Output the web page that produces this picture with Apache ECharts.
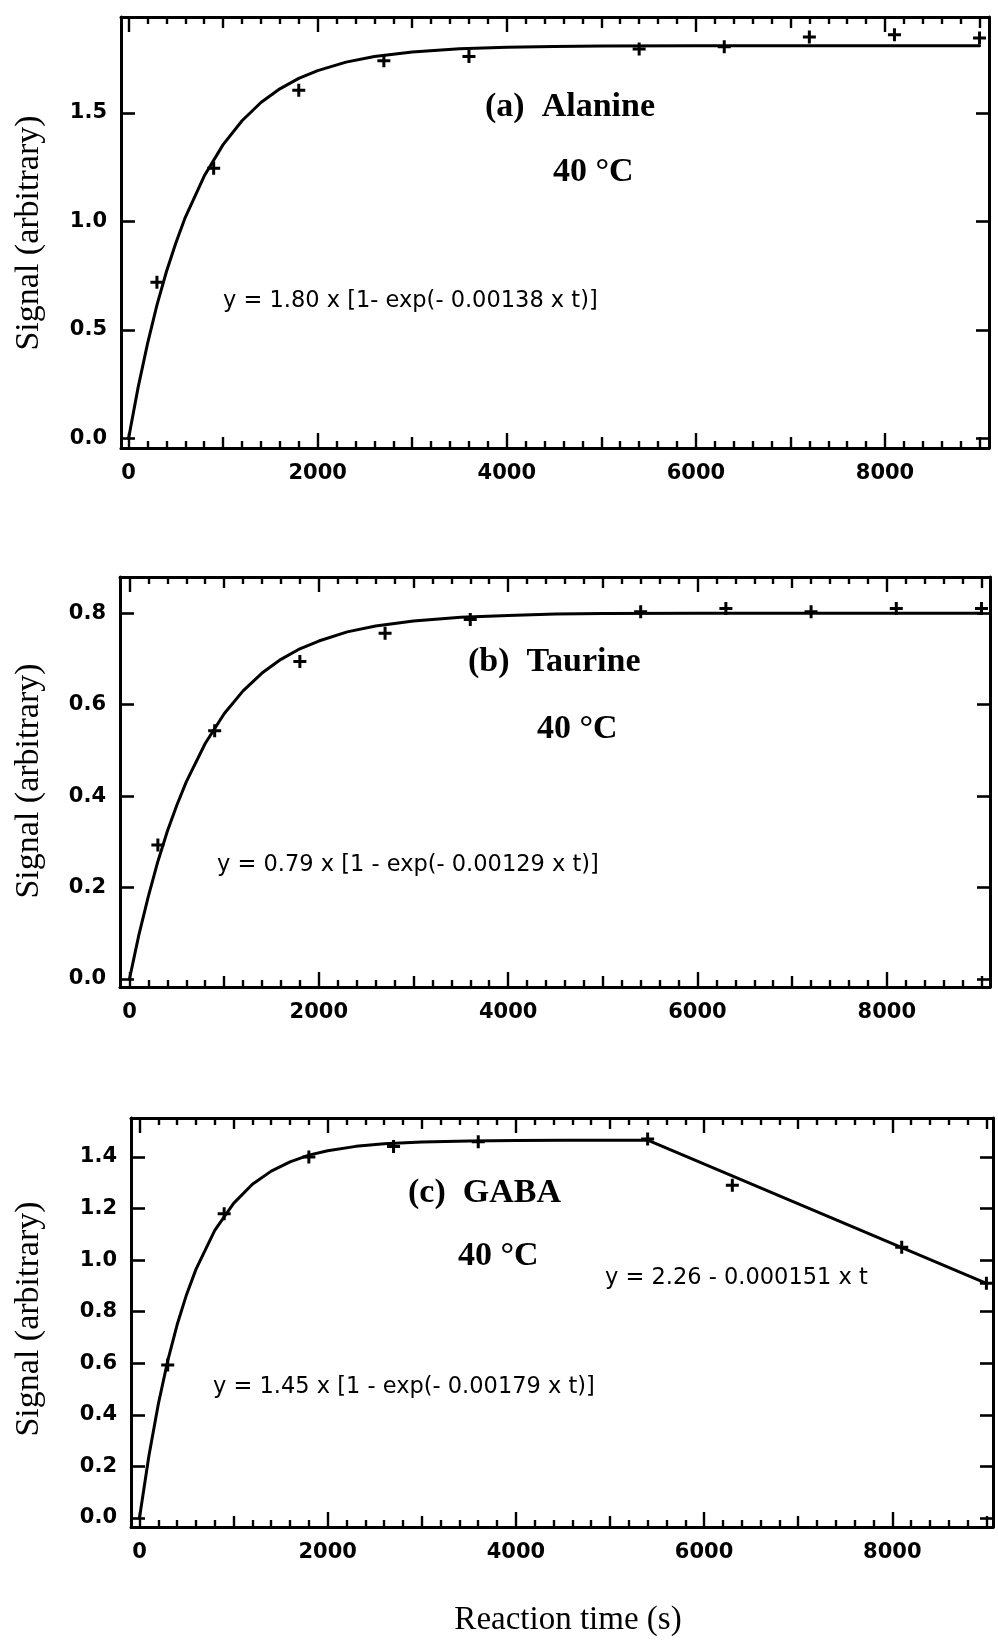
<!DOCTYPE html>
<html>
<head>
<meta charset="utf-8">
<script src="https://cdn.jsdelivr.net/npm/echarts@6/dist/echarts.min.js"></script>
<style>
html,body{margin:0;padding:0;background:#ffffff;}
#chart{width:998px;height:1643px;}
</style>
</head>
<body>
<div id="chart"></div>
<script>
// ---- tick values (reaction time, s) ----
const xLabelTicks = [0, 2000, 4000, 6000, 8000];
const xMidTicks = [1000, 3000, 5000, 7000, 9000];
const xMinorTicks = [200, 400, 600, 800, 1200, 1400, 1600, 1800, 2200, 2400, 2600, 2800,
  3200, 3400, 3600, 3800, 4200, 4400, 4600, 4800, 5200, 5400, 5600, 5800,
  6200, 6400, 6600, 6800, 7200, 7400, 7600, 7800, 8200, 8400, 8600, 8800];

// ---- signal tick values ----
const yTicksAlanine = [0, 0.5, 1.0, 1.5];
const yTicksTaurine = [0, 0.2, 0.4, 0.6, 0.8];
const yTicksGaba = [0, 0.2, 0.4, 0.6, 0.8, 1.0, 1.2, 1.4];

// ---- measured points ----
const alanineTime = [300, 900, 1800, 2700, 3600, 5400, 6300, 7200, 8100, 9000];
const alanineSignal = [0.72, 1.245, 1.605, 1.74, 1.76, 1.795, 1.805, 1.85, 1.86, 1.845];

const taurineTime = [300, 900, 1800, 2700, 3600, 5400, 6300, 7200, 8100, 9000];
const taurineSignal = [0.293, 0.543, 0.694, 0.756, 0.786, 0.803, 0.81, 0.803, 0.81, 0.81];

const gabaTime = [300, 900, 1800, 2700, 3600, 5400, 6300, 8100, 9000];
const gabaSignal = [0.593, 1.18, 1.40, 1.44, 1.459, 1.47, 1.29, 1.05, 0.91];

// ---- fitted curves ----
const fitTime = [0, 100, 200, 300, 400, 500, 600, 800, 1000, 1200, 1400, 1600, 1800, 2000,
  2300, 2600, 3000, 3500, 4000, 4500, 5000, 6000, 7000, 8000, 9000];
const alanineFit = [0, 0.233, 0.436, 0.614, 0.768, 0.901, 1.019, 1.209, 1.354, 1.464, 1.548,
  1.611, 1.659, 1.695, 1.734, 1.760, 1.781, 1.796, 1.803, 1.806, 1.808, 1.810, 1.810, 1.810, 1.810];
const taurineFit = [0, 0.097, 0.181, 0.257, 0.323, 0.380, 0.431, 0.515, 0.580, 0.630, 0.669,
  0.699, 0.722, 0.739, 0.759, 0.772, 0.783, 0.791, 0.795, 0.798, 0.799, 0.800, 0.800, 0.800, 0.800];

const gabaFitTime = [0, 100, 200, 300, 400, 500, 600, 800, 1000, 1200, 1400, 1600, 1800, 2000,
  2300, 2600, 3000, 3500, 4000, 4500, 5000, 5400];
const gabaFit = [0, 0.240, 0.441, 0.609, 0.749, 0.866, 0.964, 1.115, 1.220, 1.294, 1.345,
  1.381, 1.407, 1.424, 1.441, 1.451, 1.458, 1.462, 1.464, 1.465, 1.465, 1.465];
const gabaDecayTime = [5400, 9000];
const gabaDecay = [1.465, 0.91];

// ---- text ----
const yTitle = 'Signal (arbitrary)';
const xTitle = 'Reaction time (s)';
const panelTitles = ['(a)  Alanine', '(b)  Taurine', '(c)  GABA'];
const tempLabel = '40 \u00B0C';
const equations = [
  'y = 1.80 x [1- exp(- 0.00138 x t)]',
  'y = 0.79 x [1 - exp(- 0.00129 x t)]',
  'y = 1.45 x [1 - exp(- 0.00179 x t)]'
];
const linearEquation = 'y = 2.26 - 0.000151 x t';

const SANS = "'DejaVu Sans', Verdana, sans-serif";
const SERIF = "'Liberation Serif', 'Times New Roman', Times, serif";
const PLUS = 'path://M5,0H8V5H13V8H8V13H5V8H0V5H5Z';

const zip = (a, b) => a.map((v, i) => [v, b[i]]);

const layouts = [
  { left: 121, right: 9, top: 17, height: 431, xMin: -80, xMax: 9100, yMin: -0.044, yMax: 1.942, yTicks: yTicksAlanine },
  { left: 120, right: 8, top: 577, height: 410, xMin: -100, xMax: 9090, yMin: -0.0175, yMax: 0.879, yTicks: yTicksTaurine },
  { left: 131, right: 5, top: 1118, height: 409, xMin: -90, xMax: 9070, yMin: -0.035, yMax: 1.551, yTicks: yTicksGaba }
];

const grids = [], xAxes = [], yAxes = [], series = [];
const labelStyle = { color: '#000', fontSize: 21, fontWeight: 'bold', fontFamily: SANS };

function xAxisDef(p, L, position, ticks, len, withLine, withLabels) {
  return {
    gridIndex: p, type: 'value', position: position, min: L.xMin, max: L.xMax,
    axisLine: { show: withLine, onZero: false, lineStyle: { color: '#000', width: 3 } },
    axisTick: { show: true, inside: true, length: len, customValues: ticks, lineStyle: { color: '#000', width: 2.4 } },
    axisLabel: withLabels ? Object.assign({ show: true, customValues: xLabelTicks, margin: 15,
      formatter: v => String(Math.round(v)) }, labelStyle) : { show: false },
    splitLine: { show: false }, minorTick: { show: false }, minorSplitLine: { show: false }
  };
}

layouts.forEach((L, p) => {
  grids.push({ left: L.left, right: L.right, top: L.top, height: L.height, outerBoundsMode: 'none', containLabel: false, show: false });
  xAxes.push(xAxisDef(p, L, 'bottom', xLabelTicks, 15, true, true));
  xAxes.push(xAxisDef(p, L, 'bottom', xMidTicks, 11, false, false));
  xAxes.push(xAxisDef(p, L, 'bottom', xMinorTicks, 7, false, false));
  xAxes.push(xAxisDef(p, L, 'top', xLabelTicks, 15, true, false));
  xAxes.push(xAxisDef(p, L, 'top', xMidTicks, 11, false, false));
  xAxes.push(xAxisDef(p, L, 'top', xMinorTicks, 7, false, false));
  yAxes.push({
    gridIndex: p, type: 'value', position: 'left', min: L.yMin, max: L.yMax,
    axisLine: { show: true, onZero: false, lineStyle: { color: '#000', width: 3 } },
    axisTick: { show: true, inside: true, length: 14, customValues: L.yTicks, lineStyle: { color: '#000', width: 2.6 } },
    axisLabel: Object.assign({ show: true, customValues: L.yTicks, margin: 14,
      formatter: v => Number(v).toFixed(1) }, labelStyle),
    splitLine: { show: false }
  });
  yAxes.push({
    gridIndex: p, type: 'value', position: 'right', min: L.yMin, max: L.yMax,
    axisLine: { show: true, onZero: false, lineStyle: { color: '#000', width: 3 } },
    axisTick: { show: true, inside: true, length: 13, customValues: L.yTicks, lineStyle: { color: '#000', width: 2.6 } },
    axisLabel: { show: false },
    splitLine: { show: false }
  });
});

function fitLine(p, data) {
  return { type: 'line', xAxisIndex: p * 6, yAxisIndex: p * 2, data: data, showSymbol: false, symbol: 'none',
    smooth: false, lineStyle: { color: '#000', width: 3, join: 'round', cap: 'round' }, silent: true, z: 3 };
}
function points(p, data) {
  return { type: 'scatter', xAxisIndex: p * 6, yAxisIndex: p * 2, data: data, symbol: PLUS, symbolSize: 13,
    itemStyle: { color: '#000', opacity: 1 }, silent: true, z: 4 };
}

series.push(fitLine(0, zip(fitTime, alanineFit)));
series.push(points(0, zip(alanineTime, alanineSignal)));
series.push(fitLine(1, zip(fitTime, taurineFit)));
series.push(points(1, zip(taurineTime, taurineSignal)));
series.push(fitLine(2, zip(gabaFitTime, gabaFit)));
series.push(fitLine(2, zip(gabaDecayTime, gabaDecay)));
series.push(points(2, zip(gabaTime, gabaSignal)));

function txt(x, y, text, font, align) {
  return { type: 'text', x: x, y: y, silent: true, z: 10,
    style: { text: text, font: font, fill: '#000', textAlign: align || 'left', align: align || 'left',
      textVerticalAlign: 'middle', verticalAlign: 'middle' } };
}
function vtxt(x, y, text, font) {
  return { type: 'text', x: x, y: y, rotation: Math.PI / 2, silent: true, z: 10,
    style: { text: text, font: font, fill: '#000', textAlign: 'center', align: 'center',
      textVerticalAlign: 'middle', verticalAlign: 'middle' } };
}

const boldSerif = 'bold 34px ' + SERIF;
const eqFont = '22.5px ' + SANS;
const graphics = [
  txt(485, 107, panelTitles[0], boldSerif),
  txt(553, 172, tempLabel, boldSerif),
  txt(223, 301, equations[0], eqFont),
  txt(468, 662, panelTitles[1], boldSerif),
  txt(537, 729, tempLabel, boldSerif),
  txt(217, 865, equations[1], eqFont),
  txt(408, 1193, panelTitles[2], boldSerif),
  txt(458, 1256, tempLabel, boldSerif),
  txt(213, 1387, equations[2], eqFont),
  txt(605, 1278, linearEquation, eqFont),
  vtxt(29, 233, yTitle, '34px ' + SERIF),
  vtxt(29, 781, yTitle, '34px ' + SERIF),
  vtxt(29, 1319, yTitle, '34px ' + SERIF),
  txt(568, 1620, xTitle, '33px ' + SERIF, 'center')
];

const chart = echarts.init(document.getElementById('chart'), null, { renderer: 'canvas' });
chart.setOption({
  backgroundColor: '#ffffff',
  animation: false,
  grid: grids,
  xAxis: xAxes,
  yAxis: yAxes,
  series: series,
  graphic: graphics
});
</script>
</body>
</html>
